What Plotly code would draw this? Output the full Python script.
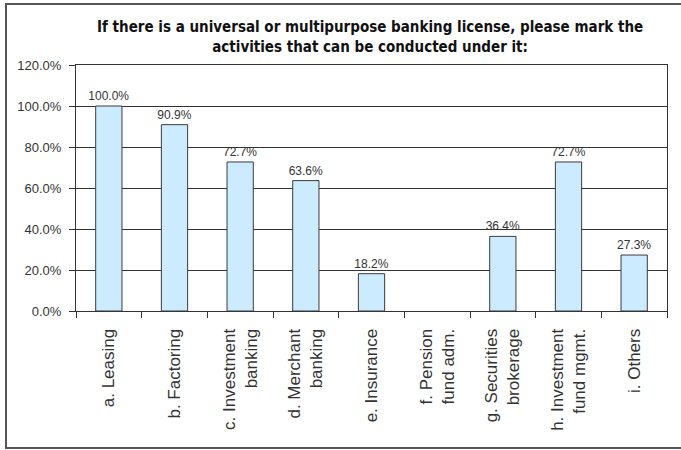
import plotly.graph_objects as go

categories = [
    "a. Leasing",
    "b. Factoring",
    "c. Investment<br>banking",
    "d. Merchant<br>banking",
    "e. Insurance",
    "f. Pension<br>fund adm.",
    "g. Securities<br>brokerage",
    "h. Investment<br>fund mgmt.",
    "i. Others",
]
shares = [1.000, 0.909, 0.727, 0.636, 0.182, 0.0, 0.364, 0.727, 0.273]
title_lines = [
    "If there is a universal or multipurpose banking license, please mark the",
    "activities that can be conducted under it:",
]

W, H = 681, 450
ML, MR, MT, MB = 76, 14, 65, 139
pw, ph = W - ML - MR, H - MT - MB

def px_x(p):
    return (p - ML) / pw

def px_y(p):
    return (H - MB - p) / ph

labels = ["" if v == 0 else f"{v * 100:.1f}%" for v in shares]
edge_widths = [0 if v == 0 else 1 for v in shares]

fig = go.Figure(
    go.Bar(
        x=categories,
        y=shares,
        width=0.4,
        marker=dict(color="#CCEBFF", line=dict(color="#3a3a3a", width=edge_widths)),
        text=labels,
        textposition="outside",
        constraintext="none",
        textfont=dict(family="Liberation Sans, Arial", size=12, color="#333333"),
        cliponaxis=False,
    )
)

fig.update_layout(
    width=W,
    height=H,
    margin=dict(l=ML, r=MR, t=MT, b=MB),
    paper_bgcolor="white",
    plot_bgcolor="white",
    showlegend=False,
    font=dict(family="Liberation Sans, Arial", color="#222222"),
    annotations=[
        dict(
            text="<b>" + "<br>".join(title_lines) + "</b>",
            xref="paper",
            yref="paper",
            x=px_x(370),
            y=px_y(16),
            xanchor="center",
            yanchor="top",
            showarrow=False,
            align="center",
            font=dict(family="DejaVu Sans Condensed, Liberation Sans Narrow, Arial Narrow", size=15, color="#111111"),
        )
    ],
    shapes=[
        dict(
            type="rect",
            xref="paper",
            yref="paper",
            x0=px_x(6),
            x1=px_x(690),
            y0=px_y(448),
            y1=px_y(4),
            line=dict(color="#555555", width=2),
            layer="below",
        )
    ],
)

fig.update_xaxes(
    type="category",
    tickangle=-90,
    tickson="boundaries",
    ticks="outside",
    ticklen=6,
    tickcolor="#333333",
    ticklabelstandoff=10,
    showline=True,
    linecolor="#333333",
    linewidth=1,
    mirror=True,
    tickfont=dict(family="Liberation Sans, Arial", size=17, color="#333333"),
    showgrid=False,
)

fig.update_yaxes(
    range=[0, 1.2],
    dtick=0.2,
    tickformat=".1%",
    ticks="outside",
    ticklen=6,
    tickcolor="#333333",
    ticklabelstandoff=5,
    showline=True,
    linecolor="#333333",
    linewidth=1,
    mirror=True,
    showgrid=True,
    gridcolor="#333333",
    gridwidth=1,
    zeroline=False,
    tickfont=dict(family="Liberation Sans, Arial", size=13, color="#333333"),
)

fig.write_html("out.html")
